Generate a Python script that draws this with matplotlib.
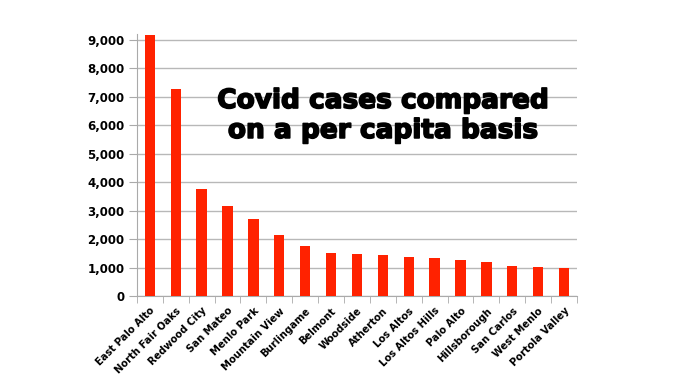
import matplotlib.pyplot as plt
import matplotlib.patheffects as pe
import numpy as np
from matplotlib.ticker import FuncFormatter, MultipleLocator

# %%
cities = [
    "East Palo Alto", "North Fair Oaks", "Redwood City", "San Mateo",
    "Menlo Park", "Mountain View", "Burlingame", "Belmont", "Woodside",
    "Atherton", "Los Altos", "Los Altos Hills", "Palo Alto", "Hillsborough",
    "San Carlos", "West Menlo", "Portola Valley",
]
cases_per_capita = [
    9170, 7280, 3760, 3175, 2720, 2145, 1770, 1530, 1475,
    1430, 1360, 1340, 1270, 1210, 1050, 1010, 975,
]
title_lines = ["Covid cases compared", "on a per capita basis"]

# %%
fig = plt.figure(figsize=(6.78, 3.81), dpi=100)
ax = fig.add_axes([0.202, 0.223, 0.649, 0.687])

x = np.arange(len(cities))
ax.bar(x, cases_per_capita, width=0.4, color="#ff2200", zorder=3)

ax.set_xlim(-0.5, len(cities) - 0.5)
ax.set_ylim(0, 9200)
ax.yaxis.set_major_locator(MultipleLocator(1000))
ax.yaxis.set_major_formatter(FuncFormatter(lambda v, _: f"{int(v):,}"))
ax.grid(axis="y", color="#b8b8b8", linewidth=1, zorder=0)

ax.set_xticks(x)
ax.set_xticklabels(cities, rotation=45, ha="right", rotation_mode="anchor",
                   fontsize=7.2, fontweight="bold")
ax.set_xticks(np.arange(-0.5, len(cities)), minor=True)
ax.tick_params(axis="x", which="major", length=0, pad=7)
ax.tick_params(axis="x", which="minor", length=5, color="#aaaaaa")
ax.tick_params(axis="y", length=6, color="#aaaaaa", labelsize=8.5, pad=3)
for lbl in ax.get_yticklabels():
    lbl.set_fontweight("bold")

for side in ["top", "right"]:
    ax.spines[side].set_visible(False)
for side in ["left", "bottom"]:
    ax.spines[side].set_color("#aaaaaa")

# title sits inside the plot, two lines placed by baseline
for line, yb in zip(title_lines, [0.7165, 0.638]):
    fig.text(0.565, yb, line, ha="center", va="baseline",
             fontsize=19, fontweight="heavy", color="black",
             path_effects=[pe.withStroke(linewidth=1.2, foreground="black")])

fig.savefig("out.png", dpi=100)
